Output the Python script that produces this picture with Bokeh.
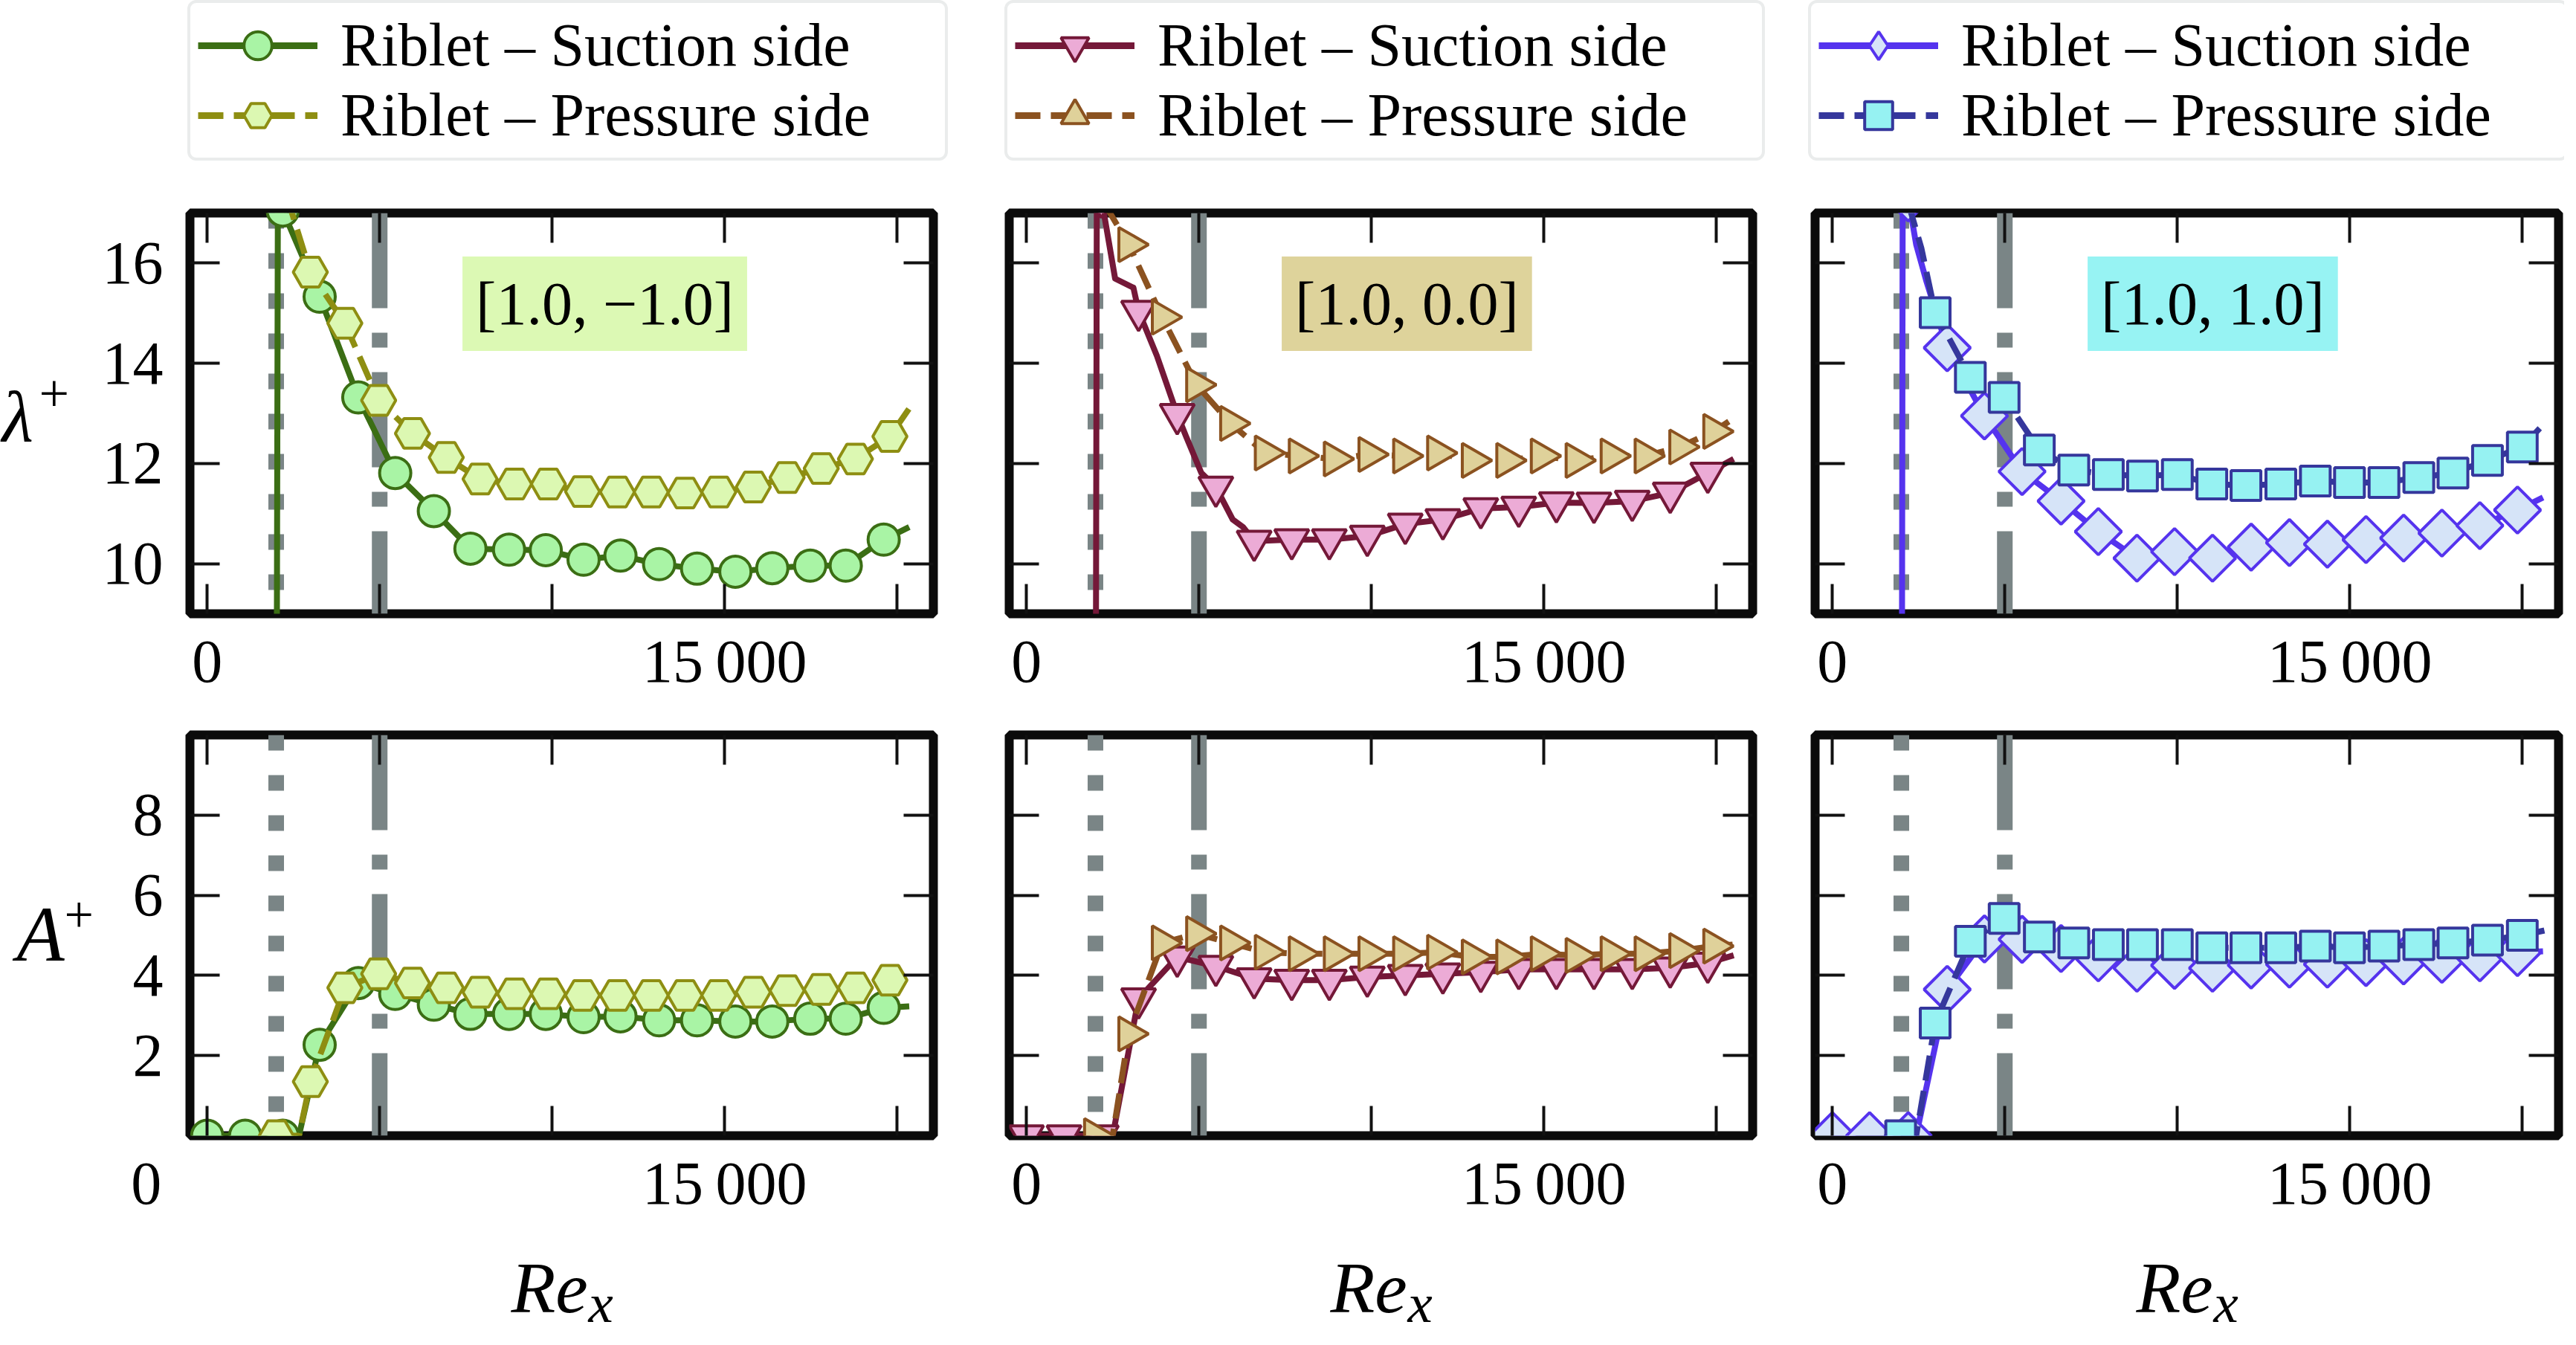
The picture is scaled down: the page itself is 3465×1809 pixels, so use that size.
from bokeh.plotting import figure
from bokeh.models import Range1d, FixedTicker, LinearAxis, Span, Label, Legend, LegendItem
from bokeh.layouts import column, row
from bokeh.embed import file_html
from bokeh.resources import INLINE

nan = float("nan")

# ---------------- data ----------------
configs = ["[1.0, \u22121.0]", "[1.0, 0.0]", "[1.0, 1.0]"]
x_ticks = [0, 5000, 10000, 15000, 20000]
lam_ticks = [10, 12, 14, 16]
amp_ticks = [2, 4, 6, 8]
legend_labels = ["Riblet \u2013 Suction side", "Riblet \u2013 Pressure side"]

# configuration [1.0, -1.0]
c1_suc_x = [0, 1100, 2190, 3260, 4380, 5450, 6570, 7630, 8750, 9815, 10910, 11980, 13100, 14200, 15310, 16380, 17480, 18510, 19610]
c1_suc_lam = [0, 0, 17.05, 15.33, 13.32, 11.81, 11.05, 10.30, 10.28, 10.27, 10.08, 10.16, 9.99, 9.90, 9.84, 9.91, 9.96, 9.96, 10.48]
c1_suc_amp = [0, 0, 0, 2.27, 3.81, 3.54, 3.27, 3.04, 3.04, 3.04, 2.96, 2.98, 2.88, 2.88, 2.85, 2.85, 2.92, 2.92, 3.19]
c1_pre_x = [2005, 2990, 3990, 4970, 5950, 6930, 7910, 8910, 9890, 10880, 11890, 12870, 13850, 14830, 15830, 16810, 17800, 18790, 19790]
c1_pre_lam = [nan, 15.82, 14.80, 13.26, 12.60, 12.12, 11.69, 11.59, 11.59, 11.44, 11.43, 11.43, 11.41, 11.43, 11.53, 11.72, 11.90, 12.09, 12.54]
c1_pre_amp = [0, 1.35, 3.69, 4.04, 3.81, 3.69, 3.58, 3.54, 3.54, 3.50, 3.50, 3.50, 3.50, 3.50, 3.58, 3.62, 3.65, 3.69, 3.88]
c1_suc_lam_line_x = [0, 1100, 1990, 2050] + c1_suc_x[2:] + [20350]
c1_suc_lam_line = [0, 0, 0, 17.6] + c1_suc_lam[2:] + [10.73]
c1_suc_amp_line_x = c1_suc_x[:3] + [2660] + c1_suc_x[3:] + [20350]
c1_suc_amp_line = c1_suc_amp[:3] + [0] + c1_suc_amp[3:] + [3.23]
c1_pre_lam_line_x = [2300] + c1_pre_x[1:] + [20350]
c1_pre_lam_line = [17.35] + c1_pre_lam[1:] + [13.10]
c1_pre_amp_line_x = [2005, 2660] + c1_pre_x[1:] + [20350]
c1_pre_amp_line = [0, 0] + c1_pre_amp[1:] + [3.96]

# configuration [1.0, 0.0]
c2_suc_x = [0, 1090, 2170, 3250, 4370, 5490, 6600, 7690, 8780, 9880, 10980, 12070, 13170, 14270, 15360, 16450, 17560, 18660, 19750]
c2_suc_lam = [0, 0, 17.3, 15.04, 12.98, 11.53, 10.45, 10.48, 10.48, 10.55, 10.79, 10.88, 11.10, 11.13, 11.22, 11.21, 11.25, 11.41, 11.81]
c2_suc_amp = [0, 0, 0, 3.42, 4.46, 4.23, 3.92, 3.88, 3.88, 3.96, 4.00, 4.04, 4.08, 4.15, 4.15, 4.15, 4.15, 4.19, 4.31]
c2_pre_x = [1970, 2965, 3935, 4930, 5915, 6920, 7905, 8920, 9925, 10930, 11915, 12920, 13920, 14920, 15930, 16945, 17930, 18935, 19920]
c2_pre_lam = [nan, 16.37, 14.92, 13.57, 12.80, 12.21, 12.15, 12.09, 12.18, 12.15, 12.21, 12.06, 12.06, 12.15, 12.06, 12.15, 12.15, 12.33, 12.64]
c2_pre_amp = [0, 2.54, 4.81, 5.04, 4.81, 4.58, 4.54, 4.54, 4.54, 4.54, 4.58, 4.46, 4.46, 4.54, 4.50, 4.54, 4.54, 4.62, 4.73]
c2_suc_lam_line_x = [0, 1090, 1990, 2040, 2170, 2570, 3100, 3250, 3780, 4370, 4620, 5070, 5490, 5980, 6280] + c2_suc_x[6:] + [20500]
c2_suc_lam_line = [0, 0, 0, 17.6, 17.3, 15.69, 15.51, 15.04, 14.15, 12.98, 12.55, 11.81, 11.53, 10.88, 10.73] + c2_suc_lam[6:] + [12.09]
c2_suc_amp_line_x = c2_suc_x[:3] + [2500] + c2_suc_x[3:] + [20500]
c2_suc_amp_line = c2_suc_amp[:3] + [0] + c2_suc_amp[3:] + [4.50]
c2_pre_lam_line_x = [2250] + c2_pre_x[1:] + [20470]
c2_pre_lam_line = [17.2] + c2_pre_lam[1:] + [12.89]
c2_pre_amp_line_x = [1970, 2500] + c2_pre_x[1:] + [20470]
c2_pre_amp_line = [0, 0] + c2_pre_amp[1:] + [4.77]

# configuration [1.0, 1.0]
c3_suc_x = [0, 1080, 2200, 3330, 4410, 5500, 6630, 7710, 8830, 9920, 11020, 12140, 13250, 14350, 15470, 16560, 17670, 18770, 19860]
c3_suc_lam = [0, 0, 17.3, 14.31, 12.95, 11.84, 11.25, 10.64, 10.11, 10.24, 10.11, 10.33, 10.42, 10.39, 10.48, 10.51, 10.61, 10.76, 11.07]
c3_suc_amp = [0, 0, 0, 3.65, 4.91, 4.90, 4.67, 4.44, 4.18, 4.25, 4.18, 4.26, 4.28, 4.28, 4.32, 4.36, 4.40, 4.44, 4.57]
c3_pre_x = [1980, 2980, 4000, 4980, 6000, 7000, 8000, 8990, 10000, 11000, 11990, 13000, 14000, 14990, 15990, 17000, 17990, 18990, 20000]
c3_pre_lam = [nan, 15.01, 13.72, 13.32, 12.27, 11.87, 11.78, 11.75, 11.78, 11.59, 11.56, 11.59, 11.65, 11.62, 11.62, 11.72, 11.81, 12.06, 12.33]
c3_pre_amp = [0, 2.81, 4.85, 5.42, 4.96, 4.81, 4.77, 4.77, 4.77, 4.69, 4.69, 4.69, 4.73, 4.69, 4.73, 4.77, 4.81, 4.88, 5.00]
c3_suc_lam_line_x = [0, 1080, 2000, 2040, 2200, 2430, 2730] + c3_suc_x[3:] + [20600]
c3_suc_lam_line = [0, 0, 0, 17.8, 17.3, 16.37, 15.63] + c3_suc_lam[3:] + [11.32]
c3_suc_amp_line_x = c3_suc_x[:3] + [2430] + c3_suc_x[3:] + [20600]
c3_suc_amp_line = c3_suc_amp[:3] + [0] + c3_suc_amp[3:] + [4.60]
c3_pre_lam_line_x = [2200, 2580] + c3_pre_x[1:] + [20640]
c3_pre_lam_line = [17.2, 16.3] + c3_pre_lam[1:] + [12.80]
c3_pre_amp_line_x = [1980, 2430] + c3_pre_x[1:] + [20640]
c3_pre_amp_line = [0, 0] + c3_pre_amp[1:] + [5.12]

# ---------------- styling / layout ----------------
FONT = "Liberation Serif"
GRAY = "#7a8586"
FRAME = "#0b0b0b"
XR = (-500, 21050)
LAM_R = (9, 17)
AMP_R = (0, 10)
LBL_W = 130
COL_W = [1177, 1095, 1047]
FULL_W = [1307, 1095, 1047]
MBL = [125, 50, 39]
MBR = [52, 45, 8]
FRAME_LEFT = [255, 50, 39]
LEG_PAD_LEFT = [252, 44, 30]
BOX_COLORS = ["#dcf9b4", "#ded39b", "#97f3f3"]
LEG_H, TOP_H, BOT_H, NAME_H = 250, 700, 697, 146

styles = [
    (dict(color="#3b6e14", fill="#a9f4a5", marker="circle", size=42, angle=0.0, dash="solid"),
     dict(color="#8e8e12", fill="#dcf8b2", marker="hex", size=46, angle=0.0, dash="34 14")),
    (dict(color="#741838", fill="#ecabd6", marker="inverted_triangle", size=46, angle=0.0, dash="solid"),
     dict(color="#8b5220", fill="#dfd19a", marker="triangle", size=46, angle=-1.5707963, dash="34 14")),
    (dict(color="#5533ee", fill="#d6e4f8", marker="square", size=44, angle=0.7853982, dash="solid"),
     dict(color="#35379c", fill="#96f2f2", marker="square", size=40, angle=0.0, dash="34 14")),
]
legend_markers = [("circle", "hex"), ("inverted_triangle", "triangle"), ("diamond", "square")]

series = [
    [(c1_suc_x, c1_suc_lam, c1_suc_amp, c1_suc_lam_line_x, c1_suc_lam_line, c1_suc_amp_line_x, c1_suc_amp_line),
     (c1_pre_x, c1_pre_lam, c1_pre_amp, c1_pre_lam_line_x, c1_pre_lam_line, c1_pre_amp_line_x, c1_pre_amp_line)],
    [(c2_suc_x, c2_suc_lam, c2_suc_amp, c2_suc_lam_line_x, c2_suc_lam_line, c2_suc_amp_line_x, c2_suc_amp_line),
     (c2_pre_x, c2_pre_lam, c2_pre_amp, c2_pre_lam_line_x, c2_pre_lam_line, c2_pre_amp_line_x, c2_pre_amp_line)],
    [(c3_suc_x, c3_suc_lam, c3_suc_amp, c3_suc_lam_line_x, c3_suc_lam_line, c3_suc_amp_line_x, c3_suc_amp_line),
     (c3_pre_x, c3_pre_lam, c3_pre_amp, c3_pre_lam_line_x, c3_pre_lam_line, c3_pre_amp_line_x, c3_pre_amp_line)],
]


def blank_fig(w, h, left=0):
    f = figure(width=w, height=h, x_range=Range1d(0, w - left), y_range=Range1d(0, h),
               x_axis_type=None, y_axis_type=None, output_backend="svg", toolbar_location=None,
               min_border_left=left, min_border_right=0, min_border_top=0, min_border_bottom=0)
    f.outline_line_color = None
    f.background_fill_color = "white"
    f.border_fill_color = "white"
    return f


def add_text(p, x, y, text, size, italic=False, align="left", baseline="alphabetic", **kw):
    lab = Label(x=x, y=y, text=text, text_font=FONT, text_font_size=size,
                text_font_style="italic" if italic else "normal",
                text_align=align, text_baseline=baseline, text_color="black", **kw)
    p.add_layout(lab)
    return lab


def style_axis(ax, ticks, overrides=None, standoff=0):
    ax.ticker = FixedTicker(ticks=ticks)
    ax.axis_line_color = None
    ax.major_tick_in = 40
    ax.major_tick_out = 0
    ax.minor_tick_in = 0
    ax.minor_tick_out = 0
    ax.minor_tick_line_color = None
    ax.major_tick_line_width = 4
    ax.major_tick_line_color = "#111111"
    ax.major_label_text_font = FONT
    ax.major_label_text_color = "black"
    ax.major_label_standoff = standoff
    if overrides is None:
        ax.major_label_overrides = {t: "" for t in ticks}
        ax.major_label_text_font_size = "0px"
    else:
        ax.major_label_overrides = overrides
        ax.major_label_text_font_size = "82px"


def make_panel(col, top):
    yr = LAM_R if top else AMP_R
    yt = lam_ticks if top else amp_ticks
    p = figure(width=COL_W[col], height=TOP_H if top else BOT_H,
               x_range=Range1d(*XR), y_range=Range1d(*yr),
               output_backend="svg", toolbar_location=None,
               min_border_left=MBL[col], min_border_right=MBR[col],
               min_border_top=36 if top else 38, min_border_bottom=125 if top else 120)
    p.xgrid.visible = False
    p.ygrid.visible = False
    p.outline_line_color = FRAME
    p.outline_line_width = 12
    p.background_fill_color = "white"
    p.border_fill_color = "white"

    xo = {0: "0", 5000: "", 10000: "", 15000: "15\u2009000", 20000: ""}
    if (not top) and col == 0:
        # the reference prints this panel's "0" further left, under the y labels
        xo[0] = "0\u2007\u2007\u2007\u2007"
    style_axis(p.xaxis[0], x_ticks, xo, standoff=18)
    if col == 0:
        style_axis(p.yaxis[0], yt, {t: str(t) for t in yt}, standoff=36)
    else:
        style_axis(p.yaxis[0], yt)
    ax = LinearAxis()
    style_axis(ax, x_ticks)
    p.add_layout(ax, "above")
    ay = LinearAxis()
    style_axis(ay, yt)
    p.add_layout(ay, "right")

    p.add_layout(Span(location=2000, dimension="height", line_color=GRAY, line_width=21,
                      line_dash="21 33", level="underlay"))
    p.add_layout(Span(location=5000, dimension="height", line_color=GRAY, line_width=21,
                      line_dash="128 33 20 33", level="underlay"))

    for st, ser in zip(styles[col], series[col]):
        mx, lam, amp, llx, lly, alx, aly = ser
        if top:
            lx, ly, my = llx, lly, lam
        else:
            lx, ly, my = alx, aly, amp
        p.line(lx, ly, line_color=st["color"], line_width=8, line_dash=st["dash"], line_join="round")
        p.scatter(mx, my, marker=st["marker"], size=st["size"], angle=st["angle"],
                  fill_color=st["fill"], line_color=st["color"], line_width=4)

    if top:
        box = add_text(p, 7400, 15.19, configs[col], "82px", baseline="middle",
                       background_fill_color=BOX_COLORS[col], background_fill_alpha=1.0)
        try:
            box.padding = 18
        except Exception:
            pass
    return p


def make_legend(col):
    lf = blank_fig(FULL_W[col], LEG_H, LEG_PAD_LEFT[col])
    items = []
    for st, mk, lab, ser in zip(styles[col], legend_markers[col], legend_labels, series[col]):
        mx, lam, amp, llx, lly, alx, aly = ser
        lr = lf.line(llx, lly, line_color=st["color"], line_width=9, line_dash=st["dash"], visible=False)
        sr = lf.scatter(mx, lam, marker=mk, fill_color=st["fill"], line_color=st["color"],
                        line_width=4, visible=False)
        items.append(LegendItem(label=lab, renderers=[lr, sr]))
    leg = Legend(items=items, location="top_left", margin=0, padding=10, spacing=0,
                 glyph_width=161, glyph_height=94, label_standoff=31, label_width=803,
                 label_text_font=FONT, label_text_font_size="82px", label_text_color="black",
                 border_line_color="#d5d9d9", border_line_width=4,
                 background_fill_color="white", background_fill_alpha=1.0)
    try:
        leg.border_radius = 12
    except Exception:
        pass
    lf.add_layout(leg)
    return lf


def make_xname(col):
    f = blank_fig(FULL_W[col], NAME_H)
    cx = FRAME_LEFT[col] + 500
    add_text(f, cx - 68, 62, "Re", "98px", italic=True)
    add_text(f, cx + 36, 41, "x", "75px", italic=True)
    return f


def make_yname(top):
    f = blank_fig(LBL_W, TOP_H if top else BOT_H)
    if top:
        add_text(f, 2, 345, "\u03bb", "98px", italic=True)
        add_text(f, 52, 385, "+", "72px")
    else:
        add_text(f, 22, 350, "A", "105px", italic=True)
        add_text(f, 86, 384, "+", "70px")
    return f


legends = [make_legend(c) for c in range(3)]
tops = [make_panel(c, True) for c in range(3)]
bottoms = [make_panel(c, False) for c in range(3)]
xnames = [make_xname(c) for c in range(3)]

layout = column(row(*legends),
                row(make_yname(True), *tops),
                row(make_yname(False), *bottoms),
                row(*xnames))
open("out.html", "w").write(file_html(layout, INLINE))
